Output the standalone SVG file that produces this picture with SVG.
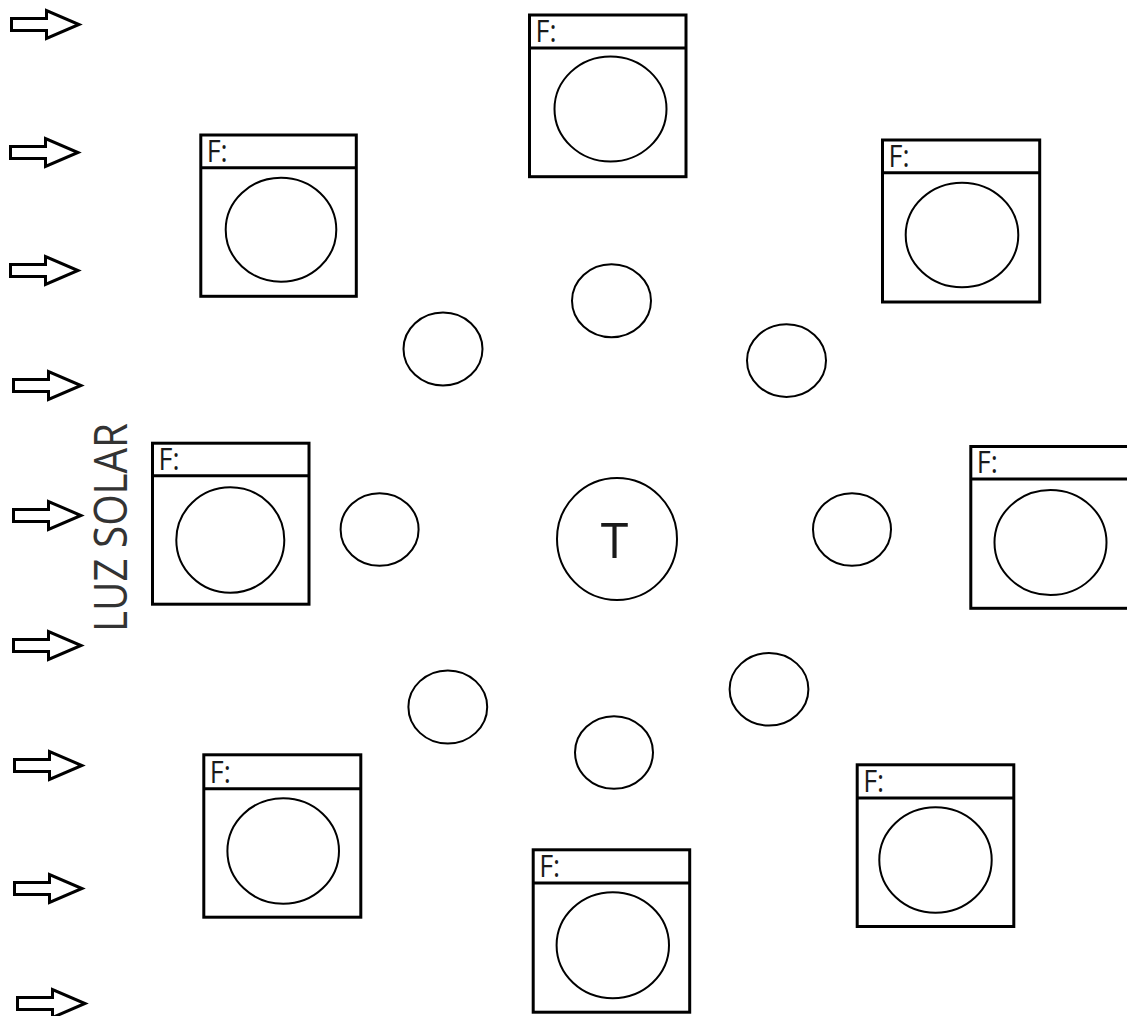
<svg xmlns="http://www.w3.org/2000/svg" xmlns:xlink="http://www.w3.org/1999/xlink" width="1127" height="1016" viewBox="0 0 1127 1016">
<style>
.box{fill:#fff;stroke:#000;stroke-width:3}
.div{stroke:#000;stroke-width:3}
.ring{fill:none;stroke:#000;stroke-width:2}
.lbl{font-family:"Open Sans","Liberation Sans",sans-serif;font-size:31px;fill:#1a1a1a}
.arr{fill:#fff;stroke:#000;stroke-width:3;stroke-linejoin:miter}
</style>
<defs>
<path id="arrow" class="arr" d="M11.5,18.5 L46.5,18.5 L46.5,10.5 L79,24.5 L46.5,38.5 L46.5,30.5 L11.5,30.5 Z"/>
</defs>
<rect width="1127" height="1016" fill="#fff"/>
<g id="sunlight-arrows">
<use xlink:href="#arrow" transform="translate(0,0)"/>
<use xlink:href="#arrow" transform="translate(-1,128)"/>
<use xlink:href="#arrow" transform="translate(-1,246)"/>
<use xlink:href="#arrow" transform="translate(2,361)"/>
<use xlink:href="#arrow" transform="translate(2,491)"/>
<use xlink:href="#arrow" transform="translate(2,621)"/>
<use xlink:href="#arrow" transform="translate(3,741)"/>
<use xlink:href="#arrow" transform="translate(3,864)"/>
<use xlink:href="#arrow" transform="translate(6,979)"/>
</g>
<g id="luz-solar">
<text transform="translate(126.5,632) rotate(-90)" font-family="'Open Sans','Liberation Sans',sans-serif" font-size="45" fill="#333" textLength="209" lengthAdjust="spacingAndGlyphs">LUZ SOLAR</text>
</g>
<g id="box-top">
<rect class="box" x="529.5" y="15" width="156.5" height="161.7"/>
<line class="div" x1="529.5" y1="48" x2="686" y2="48"/>
<text class="lbl" x="535.5" y="41.5" textLength="21" lengthAdjust="spacingAndGlyphs">F:</text>
<ellipse class="ring" cx="610.5" cy="109" rx="56" ry="52.5"/>
</g>
<g id="box-top-left">
<rect class="box" x="200.8" y="135" width="155.5" height="161.3"/>
<line class="div" x1="200.8" y1="167.7" x2="356.3" y2="167.7"/>
<text class="lbl" x="206.7" y="161.7" textLength="21" lengthAdjust="spacingAndGlyphs">F:</text>
<ellipse class="ring" cx="281" cy="229.7" rx="55.3" ry="52"/>
</g>
<g id="box-top-right">
<rect class="box" x="882.5" y="140" width="157.2" height="162"/>
<line class="div" x1="882.5" y1="172.8" x2="1039.7" y2="172.8"/>
<text class="lbl" x="888.5" y="166.5" textLength="21" lengthAdjust="spacingAndGlyphs">F:</text>
<ellipse class="ring" cx="962" cy="235" rx="56.3" ry="52.3"/>
</g>
<g id="box-left">
<rect class="box" x="152.5" y="443.2" width="156.5" height="161"/>
<line class="div" x1="152.5" y1="475.8" x2="309" y2="475.8"/>
<text class="lbl" x="158.5" y="470" textLength="21" lengthAdjust="spacingAndGlyphs">F:</text>
<ellipse class="ring" cx="230.3" cy="540" rx="54" ry="52.7"/>
</g>
<g id="box-right">
<rect class="box" x="970.8" y="446.5" width="170" height="161.8"/>
<line class="div" x1="970.8" y1="479" x2="1140" y2="479"/>
<text class="lbl" x="976.8" y="473" textLength="21" lengthAdjust="spacingAndGlyphs">F:</text>
<ellipse class="ring" cx="1050.5" cy="542.5" rx="56" ry="52.5"/>
</g>
<g id="box-bottom-left">
<rect class="box" x="203.8" y="754.8" width="157" height="162.4"/>
<line class="div" x1="203.8" y1="788.7" x2="360.8" y2="788.7"/>
<text class="lbl" x="209.8" y="782.5" textLength="21" lengthAdjust="spacingAndGlyphs">F:</text>
<ellipse class="ring" cx="283.2" cy="851" rx="55.8" ry="52.8"/>
</g>
<g id="box-bottom">
<rect class="box" x="533.2" y="849.8" width="156.5" height="162.4"/>
<line class="div" x1="533.2" y1="883" x2="689.7" y2="883"/>
<text class="lbl" x="539.2" y="877" textLength="21" lengthAdjust="spacingAndGlyphs">F:</text>
<ellipse class="ring" cx="612.8" cy="945.3" rx="56.2" ry="53"/>
</g>
<g id="box-bottom-right">
<rect class="box" x="857.2" y="764.8" width="156.6" height="161.7"/>
<line class="div" x1="857.2" y1="798" x2="1013.8" y2="798"/>
<text class="lbl" x="863.2" y="792" textLength="21" lengthAdjust="spacingAndGlyphs">F:</text>
<ellipse class="ring" cx="935.5" cy="860" rx="56.2" ry="52.7"/>
</g>
<g id="circle-n"><ellipse class="ring" cx="611.5" cy="300.7" rx="39.5" ry="36.5"/></g>
<g id="circle-nw"><ellipse class="ring" cx="443" cy="349" rx="39.5" ry="36.5"/></g>
<g id="circle-ne"><ellipse class="ring" cx="786.5" cy="360.6" rx="39.5" ry="36.3"/></g>
<g id="circle-w"><ellipse class="ring" cx="379.6" cy="529.5" rx="39" ry="36.3"/></g>
<g id="circle-e"><ellipse class="ring" cx="852" cy="529.5" rx="39" ry="36.3"/></g>
<g id="circle-sw"><ellipse class="ring" cx="447.8" cy="707" rx="39.4" ry="36.6"/></g>
<g id="circle-se"><ellipse class="ring" cx="769" cy="689.3" rx="39.4" ry="36.3"/></g>
<g id="circle-s"><ellipse class="ring" cx="614" cy="752.5" rx="39" ry="36.3"/></g>
<g id="circle-t">
<ellipse class="ring" cx="617" cy="539" rx="60" ry="61"/>
<text x="614.5" y="557.7" text-anchor="middle" font-family="'Open Sans','Liberation Sans',sans-serif" font-size="50" fill="#1a1a1a">T</text>
</g>
</svg>
